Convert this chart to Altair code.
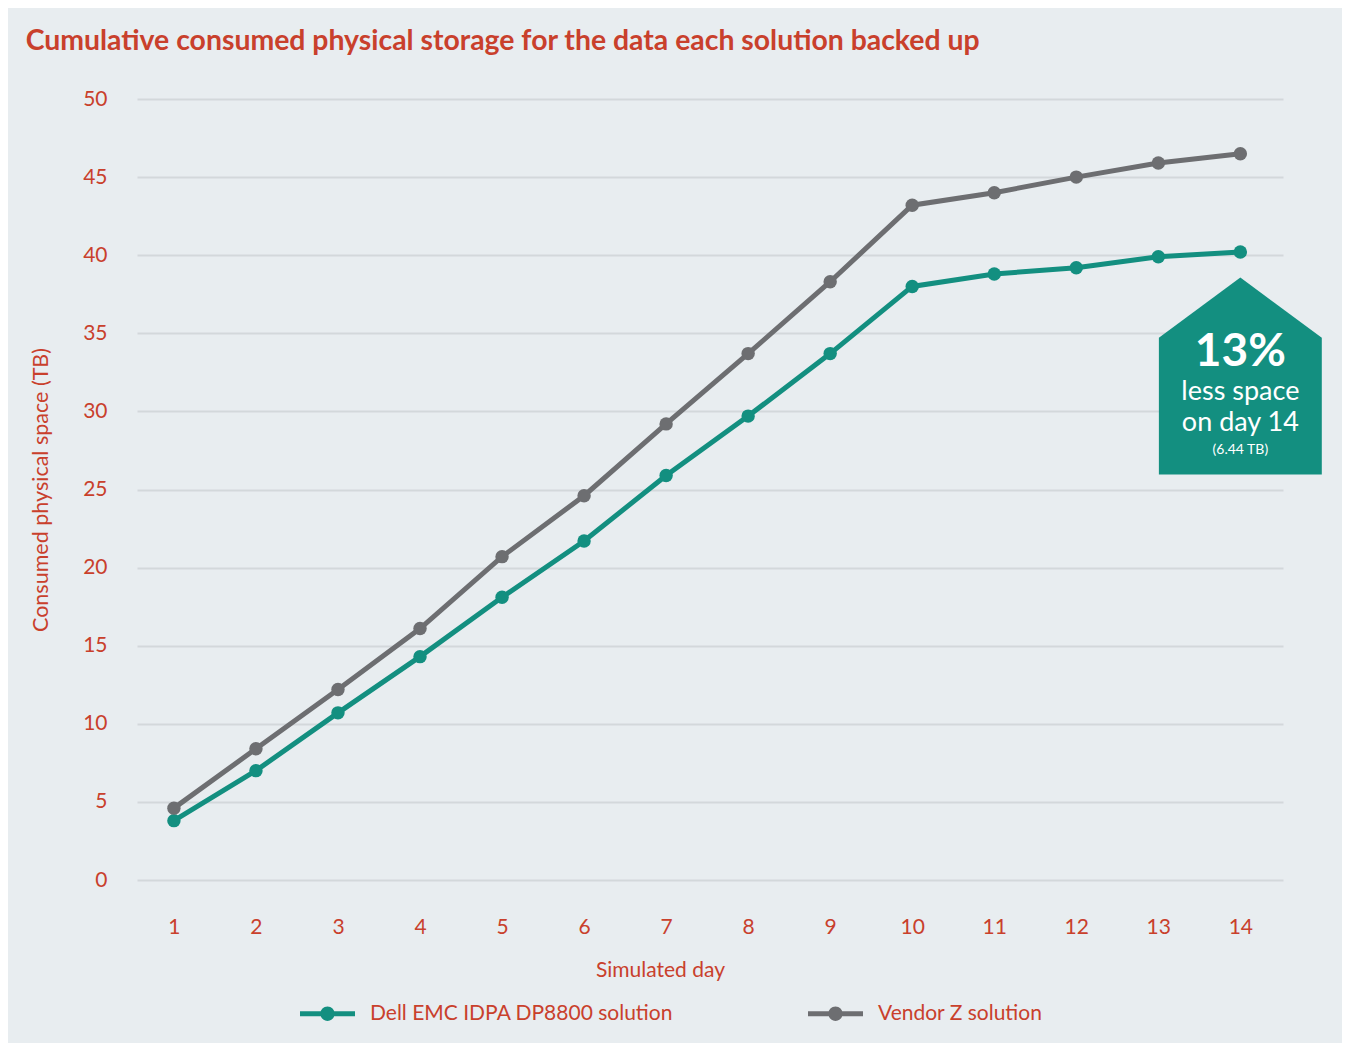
import altair as alt
import pandas as pd

days = list(range(1, 15))
dell = [3.8, 7.0, 10.7, 14.3, 18.1, 21.7, 25.9, 29.7, 33.7, 38.0, 38.8, 39.2, 39.9, 40.2]
vendor = [4.6, 8.4, 12.2, 16.1, 20.7, 24.6, 29.2, 33.7, 38.3, 43.2, 44.0, 45.0, 45.9, 46.5]
series_names = ["Dell EMC IDPA DP8800 solution", "Vendor Z solution"]
series_colors = ["#138F80", "#6D6E71"]

RED = "#C9402C"
BG = "#E8EDF0"
FONT = "Lato"

rows = []
for d, a, b in zip(days, dell, vendor):
    rows.append({"day": d, "value": a, "series": series_names[0]})
    rows.append({"day": d, "value": b, "series": series_names[1]})
df = pd.DataFrame(rows)

ann = pd.DataFrame({"day": [days[-1]], "value": [dell[-1]]})

xscale = alt.Scale(domain=[0.55, 14.52], nice=False, zero=False)
xenc = alt.X("day:Q", scale=xscale,
             axis=alt.Axis(title="Simulated day", values=days, format="d", labelAngle=0,
                           ticks=False, domain=False, grid=False, labelPadding=36,
                           titlePadding=22, titleX=523, titleFontSize=21))
yenc = alt.Y("value:Q", scale=alt.Scale(domain=[0, 50]),
             axis=alt.Axis(title="Consumed physical space  (TB)", values=list(range(0, 51, 5)),
                           ticks=False, domain=False, grid=True, labelPadding=30, titlePadding=30,
                           titleFontSize=21.5))

legend_symbol = ("M-1,-0.09L1,-0.09L1,0.09L-1,0.09Z"
                 "M0.26,0A0.26,0.26 0 1,1 -0.26,0A0.26,0.26 0 1,1 0.26,0Z")
leg = alt.Legend(title=None, orient="none", direction="horizontal",
                 legendX=163, legendY=887,
                 symbolType=legend_symbol, symbolSize=3025,
                 symbolStrokeWidth=0, symbolOpacity=1,
                 labelFontSize=21, labelColor=RED, labelFont=FONT,
                 labelOffset=15, columnPadding=134, labelLimit=400)
cenc = alt.Color("series:N", scale=alt.Scale(domain=series_names, range=series_colors), legend=leg)

base = alt.Chart(df)
lines = base.mark_line(strokeWidth=5).encode(x=xenc, y=yenc, color=cenc)
points = base.mark_circle(size=180, opacity=1).encode(x=xenc, y=yenc, color=cenc)

pent = ("M0,-1L0.827,-0.39L0.827,1L-0.827,1L-0.827,-0.39Z")
abase = alt.Chart(ann).encode(x=alt.X("day:Q", scale=xscale), y=alt.Y("value:Q"))
shape = abase.mark_point(shape=pent, size=38809, filled=True, fill="#138F80",
                         opacity=1, strokeWidth=0, yOffset=124)
t1 = abase.mark_text(text="13%", font=FONT, fontWeight="bold", fontSize=46, color="white",
                     baseline="middle", yOffset=100)
t2 = abase.mark_text(text="less space", font=FONT, fontSize=27, color="white",
                     baseline="middle", yOffset=140)
t3 = abase.mark_text(text="on day 14", font=FONT, fontSize=27, color="white",
                     baseline="middle", yOffset=171)
t4 = abase.mark_text(text="(6.44 TB)", font=FONT, fontSize=14, color="white",
                     baseline="middle", yOffset=198)

chart = alt.layer(lines, points, shape, t1, t2, t3, t4).properties(
    width=1146, height=781,
    title=alt.TitleParams("Cumulative consumed physical storage for the data each solution backed up",
                          anchor="start", frame="bounds", font=FONT, fontSize=28.4,
                          fontWeight="bold", color=RED, offset=32, dx=-5),
    background=BG,
    padding={"left": 17, "top": 18, "right": 20, "bottom": 40},
).configure_view(stroke=None).configure_axis(
    labelFont=FONT, titleFont=FONT, labelFontSize=21, titleFontSize=21,
    labelColor=RED, titleColor=RED, titleFontWeight="normal",
    gridColor="#D3D8DB", gridWidth=2,
)

chart.save("out.html", embed_options={"renderer": "svg", "actions": False})
